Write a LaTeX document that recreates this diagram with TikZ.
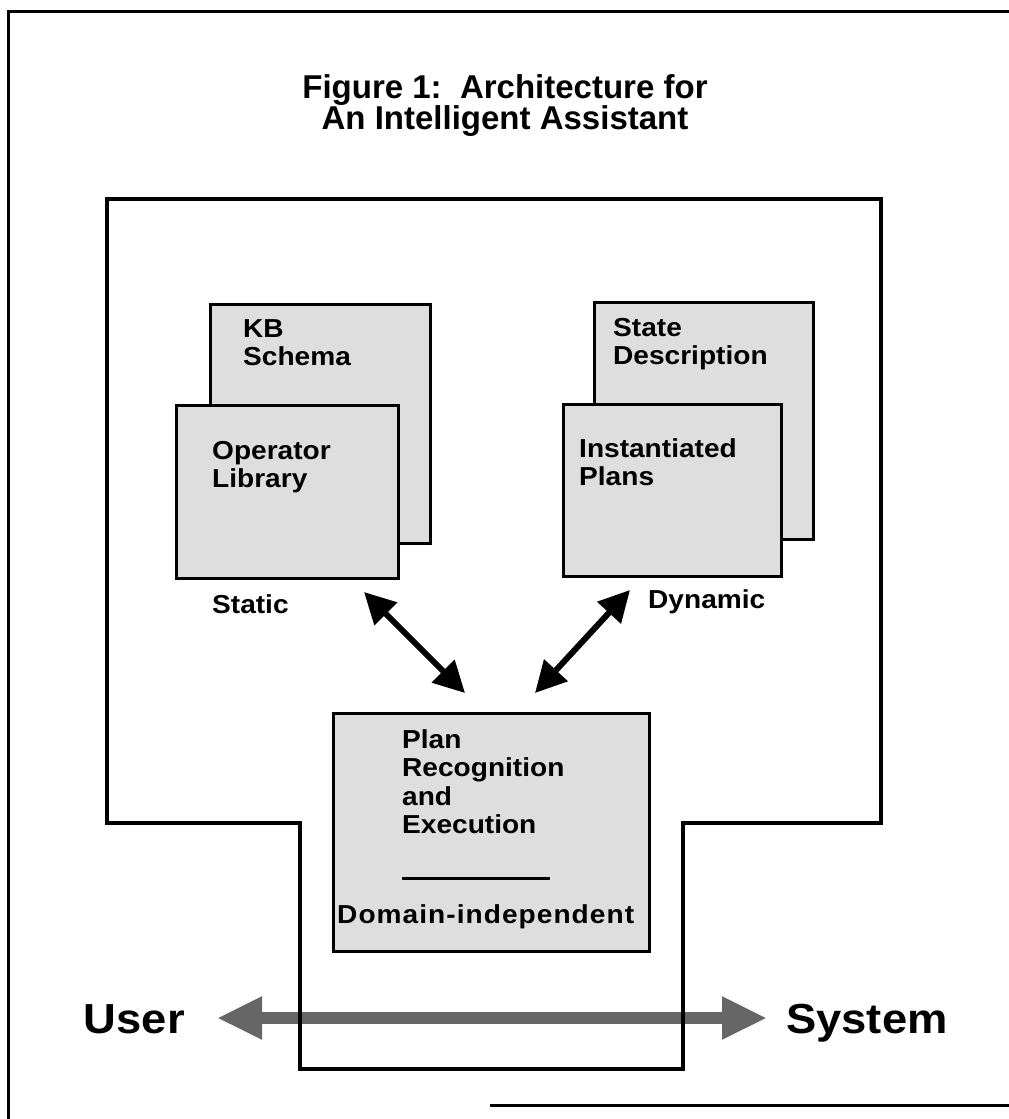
\documentclass[tikz,border=0pt]{standalone}
\usepackage{fontspec}
\setmainfont{Liberation Sans}
\newfontfamily\lblfont[FakeStretch=1.08]{Liberation Sans}
\newfontfamily\widefont[FakeStretch=1.08,LetterSpace=4]{Liberation Sans}
\usetikzlibrary{arrows.meta}

\begin{document}
\begin{tikzpicture}[x=1pt,y=-1pt,
  frameline/.style={line width=3pt},
  wall/.style={line width=4pt, line join=miter},
  card/.style={draw, line width=3pt, fill=black!13, anchor=north west, inner sep=0pt},
  lbl/.style={inner sep=0pt, anchor=north west, align=left,
    font=\lblfont\bfseries\fontsize{26}{28.5}\selectfont},
  caption/.style={inner sep=0pt, anchor=base west,
    font=\lblfont\bfseries\fontsize{26}{28.5}\selectfont},
  link/.style={line width=6pt,
    {Triangle[length=31pt,width=31pt]}-{Triangle[length=31pt,width=31pt]}},
  channel/.style={line width=12pt, draw=black!60,
    {Triangle[length=45pt,width=40pt]}-{Triangle[length=45pt,width=40pt]}},
  endpoint/.style={inner sep=0pt,
    font=\lblfont\bfseries\fontsize{42}{46}\selectfont},
]
\useasboundingbox (0,0) rectangle (1009,1119);

% outer frame
\draw[frameline] (1009,11) -- (8,11) -- (8,1119);
\draw[frameline] (490,1105) -- (1009,1105);

% title
\node[inner sep=0pt, anchor=north, align=center,
  font=\bfseries\fontsize{33}{31}\selectfont] (title) at (505,74)
  {Figure 1:\ \ Architecture for\\An Intelligent Assistant};

% user <-> system channel
\node[endpoint, anchor=base east] (user) at (185,1033) {User};
\node[endpoint, anchor=base west] (system) at (786,1033) {System};
\coordinate (chL) at (217,1018);
\coordinate (chR) at (767,1018);
\draw[channel] (chL) -- (chR);

% assistant boundary
\draw[wall] (107,199) -- (881,199) -- (881,823) -- (683,823) -- (683,1069)
  -- (300,1069) -- (300,823) -- (107,823) -- cycle;

% static knowledge
\node[card, minimum width=220pt, minimum height=239pt] (kb) at (209,303) {};
\node[card, minimum width=222pt, minimum height=173pt] (oplib) at (175,404) {};
\node[lbl] (kbtext) at (243,319) {KB\\Schema};
\node[lbl] (optext) at (212,441) {Operator\\Library};
\node[caption] (static) at (212,613) {Static};

% dynamic knowledge
\node[card, minimum width=219pt, minimum height=237pt] (state) at (593,301) {};
\node[card, minimum width=218pt, minimum height=172pt] (inst) at (562,403) {};
\node[lbl] (statetext) at (613,318) {State\\Description};
\node[lbl] (insttext) at (579,438) {Instantiated\\Plans};
\node[caption] (dynamic) at (648,608) {Dynamic};

% plan recognition engine
\node[card, minimum width=316pt, minimum height=238pt] (plan) at (332,712) {};
\node[lbl] (plantext) at (402,729) {Plan\\Recognition\\and\\Execution};
\coordinate (ruleL) at (402,878);
\coordinate (ruleR) at (550,878);
\draw[line width=3pt] (ruleL) -- (ruleR);
\node[caption, font=\widefont\bfseries\fontsize{26}{28.5}\selectfont]
  (domain) at (337,923) {Domain-independent};

% exchanges with the engine
\coordinate (sEnd) at (364,592);
\coordinate (sEng) at (465,693);
\coordinate (dEnd) at (630,590);
\coordinate (dEng) at (535,693);
\draw[link] (sEnd) -- (sEng);
\draw[link] (dEnd) -- (dEng);
\end{tikzpicture}
\end{document}
